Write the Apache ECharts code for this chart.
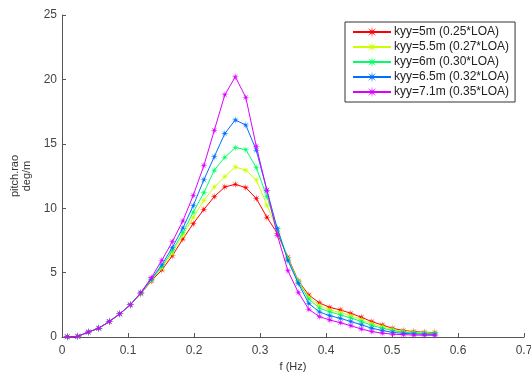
<!DOCTYPE html>
<html>
<head>
<meta charset="utf-8">
<script src="https://cdn.jsdelivr.net/npm/echarts@6/dist/echarts.min.js"></script>
<style>html,body{margin:0;padding:0;background:#fff}#c{width:531px;height:372px}</style>
</head>
<body>
<div id="c"></div>
<script>
// Frequencies (Hz)
var freq = [0.0080,0.0239,0.0398,0.0557,0.0716,0.0875,0.1035,0.1194,0.1353,0.1512,
            0.1671,0.1830,0.1989,0.2149,0.2308,0.2467,0.2626,0.2785,0.2944,0.3104,
            0.3263,0.3422,0.3581,0.3740,0.3899,0.4058,0.4218,0.4377,0.4536,0.4695,
            0.4854,0.5013,0.5172,0.5332,0.5491,0.5650];

var seriesNames = ['kyy=5m (0.25*LOA)','kyy=5.5m (0.27*LOA)','kyy=6m (0.30*LOA)','kyy=6.5m (0.32*LOA)','kyy=7.1m (0.35*LOA)'];

var rao5m  = [0.02,0.05,0.38,0.68,1.20,1.80,2.50,3.35,4.35,5.20,6.30,7.60,8.80,9.90,10.90,11.65,11.85,11.60,10.75,9.30,
              8.05,6.20,4.35,3.26,2.65,2.30,2.10,1.84,1.53,1.19,0.93,0.67,0.50,0.42,0.37,0.34];
var rao55m = [0.02,0.05,0.38,0.68,1.20,1.80,2.50,3.38,4.40,5.35,6.50,7.90,9.30,10.60,11.65,12.45,13.20,12.95,12.20,10.25,
              8.30,6.10,4.30,3.10,2.45,2.10,1.90,1.65,1.35,1.03,0.80,0.58,0.43,0.37,0.33,0.30];
var rao6m  = [0.02,0.05,0.38,0.68,1.20,1.80,2.50,3.40,4.45,5.45,6.70,8.10,9.70,11.20,12.95,13.95,14.70,14.55,13.15,10.90,
              8.40,6.05,4.25,2.95,2.25,1.95,1.72,1.48,1.20,0.90,0.68,0.50,0.37,0.32,0.28,0.26];
var rao65m = [0.02,0.05,0.38,0.68,1.20,1.80,2.50,3.42,4.50,5.60,6.95,8.45,10.20,12.20,14.00,15.80,16.85,16.45,14.50,11.40,
              8.40,5.95,4.15,2.60,1.95,1.65,1.45,1.20,0.95,0.68,0.50,0.36,0.28,0.24,0.21,0.20];
var rao71m = [0.02,0.05,0.39,0.68,1.20,1.80,2.50,3.45,4.60,5.95,7.40,9.00,11.00,13.30,16.05,18.80,20.20,18.60,14.80,11.40,
              7.90,5.15,3.45,2.15,1.58,1.32,1.11,0.87,0.62,0.42,0.30,0.22,0.18,0.15,0.14,0.13];

var xTicks = [0,0.1,0.2,0.3,0.4,0.5,0.6,0.7];
var yTicks = [0,5,10,15,20,25];

var colors = ['#ff0000','#ccff00','#00ff66','#0070ff','#dd00ff'];
var allData = [rao5m, rao55m, rao6m, rao65m, rao71m];

var star = 'path://M20 10 L12.31 10.96 L17.07 17.07 L10.96 12.31 L10 20 L9.04 12.31 L2.93 17.07 L7.69 10.96 L0 10 L7.69 9.04 L2.93 2.93 L9.04 7.69 L10 0 L10.96 7.69 L17.07 2.93 L12.31 9.04 Z';

var series = allData.map(function(arr, i){
  return {
    name: seriesNames[i],
    type: 'line',
    data: freq.map(function(f, j){ return [f, arr[j]]; }),
    symbol: star,
    symbolSize: 8,
    showAllSymbol: true,
    lineStyle: {color: colors[i], width: 1},
    itemStyle: {color: colors[i]},
    emphasis: {disabled: true},
    animation: false,
    z: 2 + i
  };
});

var chart = echarts.init(document.getElementById('c'), null, {renderer: 'canvas'});
var font = 'Liberation Sans, Arial, sans-serif';
chart.setOption({
  animation: false,
  textStyle: {fontFamily: font},
  grid: {left: 62, right: 7, top: 15, bottom: 35, containLabel: false, outerBoundsMode: 'none'},
  legend: {
    orient: 'vertical',
    left: 345, top: 22,
    padding: [4, 6, 4, 7],
    itemGap: 3,
    itemWidth: 38,
    itemHeight: 14,
    borderColor: '#333',
    borderWidth: 1,
    backgroundColor: '#fff',
    textStyle: {fontSize: 12, color: '#222', fontFamily: font, padding: [0,0,0,-2]},
    data: seriesNames
  },
  xAxis: {
    type: 'value', min: xTicks[0], max: xTicks[xTicks.length-1], interval: 0.1,
    name: 'f (Hz)', nameLocation: 'middle', nameGap: 22,
    nameTextStyle: {fontSize: 11, color: '#333'},
    axisLine: {lineStyle: {color: '#555', width: 1}},
    axisTick: {inside: true, length: 4, lineStyle: {color: '#555'}},
    axisLabel: {fontSize: 12, color: '#444', margin: 8, formatter: function(v){ return String(Math.round(v*10)/10); }},
    splitLine: {show: false}
  },
  yAxis: {
    type: 'value', min: yTicks[0], max: yTicks[yTicks.length-1], interval: 5,
    name: 'pitch.rao\ndeg/m', nameLocation: 'middle', nameGap: 21,
    nameTextStyle: {fontSize: 11, color: '#333', lineHeight: 12, align: 'center'},
    axisLine: {show: true, lineStyle: {color: '#555', width: 1}},
    axisTick: {show: true, inside: true, length: 4, lineStyle: {color: '#555'}},
    axisLabel: {fontSize: 12, color: '#444', margin: 5},
    splitLine: {show: false}
  },
  series: series
});
</script>
</body>
</html>
